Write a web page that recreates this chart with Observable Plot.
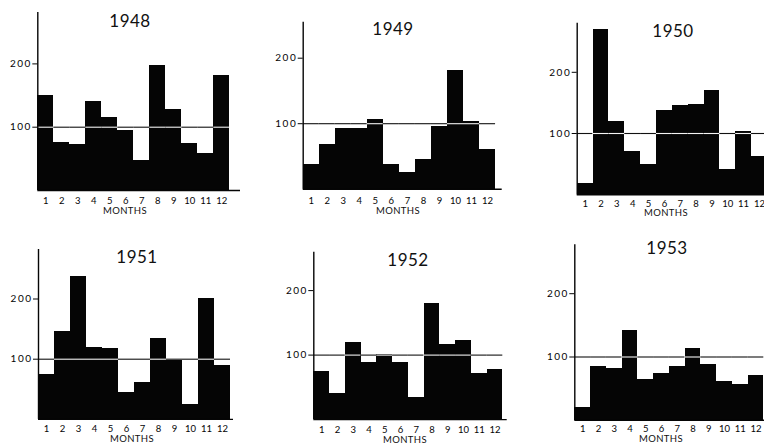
<!DOCTYPE html>
<html><head><meta charset="utf-8">
<script src="https://cdn.jsdelivr.net/npm/d3@7"></script>
<script src="https://cdn.jsdelivr.net/npm/@observablehq/plot@0.6"></script>
<style>
body{margin:0;background:#fff;}
#root{position:relative;width:764px;height:445px;overflow:hidden;background:#fff;font-family:Lato,"DejaVu Sans",sans-serif;color:#111;}
#root svg{position:absolute;}
.title{position:absolute;font-size:17px;line-height:1;transform:translate(-50%,-50%);white-space:nowrap;letter-spacing:0.5px;}
.xlab{position:absolute;font-size:9.5px;line-height:1;transform:translate(-50%,-50%);white-space:nowrap;letter-spacing:0.4px;}
</style></head><body><div id="root"></div>
<script>
// ---- data ----
const months = [1,2,3,4,5,6,7,8,9,10,11,12];
const years = [1948,1949,1950,1951,1952,1953];
const v1948 = [150,76,72,140,116,95,47,198,128,75,59,181];
const v1949 = [38,68,92,92,107,38,25,46,96,181,104,61];
const v1950 = [19,270,120,71,49,137,145,148,171,41,104,62];
const v1951 = [74,146,237,119,117,45,61,134,98,25,201,89];
const v1952 = [74,40,120,88,101,88,34,180,116,123,72,77];
const v1953 = [21,85,82,142,65,74,85,113,88,62,56,70];
const yTicks = [100,200];
const refValue = 100;
const xTitle = "MONTHS";

// ---- layout (page pixels) ----
const layout = {
  1948:{L:0,  T:0,  ox:37.3, y0:190,   per100:63.3, bw:16,    axisTop:12,    axisEnd:240, tx:130, ty:20,    my:200,   lx:125, ly:210.5},
  1949:{L:250,T:0,  ox:302.7,y0:188.7, per100:65.5, bw:16.03, axisTop:21.7,  axisEnd:501.7,tx:393, ty:27.5, my:200,   lx:398, ly:211},
  1950:{L:510,T:0,  ox:576.7,y0:194.2, per100:61.2, bw:15.85, axisTop:22.7,  axisEnd:790, tx:673, ty:29.5,  my:203,   lx:666, ly:213},
  1951:{L:0,  T:222,ox:38,   y0:418.9, per100:60.2, bw:16,    axisTop:249,   axisEnd:233, tx:137, ty:256,   my:428,   lx:132, ly:438.5},
  1952:{L:250,T:222,ox:313.3,y0:419.1, per100:64.5, bw:15.75, axisTop:251.7, axisEnd:506.7,tx:408, ty:258.5,my:429,   lx:405, ly:439.5},
  1953:{L:510,T:222,ox:574.3,y0:419.8, per100:63.3, bw:15.75, axisTop:244.3, axisEnd:790, tx:667, ty:246.5, my:428,   lx:661, ly:438.5}
};
const valuesByYear = {1948:v1948,1949:v1949,1950:v1950,1951:v1951,1952:v1952,1953:v1953};

const root = document.getElementById("root");
const ink = "#050505";
const W = 290, H = 224;

for (const yr of years) {
  const lay = layout[yr];
  const data = months.map((m,i)=>({month:m, value:valuesByYear[yr][i]}));
  const ml = lay.ox - lay.L, mt = lay.axisTop - lay.T, mb = H - (lay.y0 - lay.T), mr = W - (lay.axisEnd - lay.L);
  const xMax = 0.5 + (lay.axisEnd - lay.ox)/lay.bw;
  const yMax = (lay.y0 - lay.axisTop)/lay.per100*100;
  const svg = Plot.plot({
    width: W, height: H,
    marginLeft: ml, marginTop: mt, marginBottom: mb, marginRight: mr,
    x: {type:"linear", domain:[0.5, xMax]},
    y: {type:"linear", domain:[0, yMax]},
    style: {fontFamily:'Lato,"DejaVu Sans",sans-serif', fontSize:"9.5px", color:ink, background:"transparent", overflow:"visible"},
    marks: [
      Plot.rect(data, {x1:d=>d.month-0.5, x2:d=>d.month+0.5, y1:0, y2:"value", fill:ink, shapeRendering:"crispEdges"}),
      Plot.ruleY(data, {x1:d=>d.month-0.5, x2:d=>d.month+0.5, y:()=>refValue,
        stroke:d=>d.value>refValue?"#f4f4f4":"#111", strokeWidth:1.1}),
      Plot.ruleY([0], {stroke:ink, strokeWidth:1.4}),
      Plot.ruleX([0.5], {stroke:ink, strokeWidth:1.4}),
      Plot.axisY({ticks:yTicks, tickSize:5, tickPadding:1, label:null, stroke:ink}),
      Plot.axisX({ticks:months, tickSize:0, tickPadding:lay.my - lay.y0 - 3.5, label:null})
    ]
  });
  svg.style.left = lay.L + "px";
  svg.style.top = lay.T + "px";
  svg.querySelectorAll('[aria-label="y-axis tick label"] text').forEach(t=>t.setAttribute("letter-spacing","1.5"));
  svg.querySelectorAll('[aria-label="y-axis tick label"]').forEach(g=>g.setAttribute("font-size","10"));
  root.appendChild(svg);

  const t = document.createElement("div");
  t.className = "title"; t.textContent = String(yr);
  t.style.left = lay.tx + "px"; t.style.top = lay.ty + "px";
  root.appendChild(t);
  const l = document.createElement("div");
  l.className = "xlab"; l.textContent = xTitle;
  l.style.left = lay.lx + "px"; l.style.top = lay.ly + "px";
  root.appendChild(l);
}
</script>
</body></html>
